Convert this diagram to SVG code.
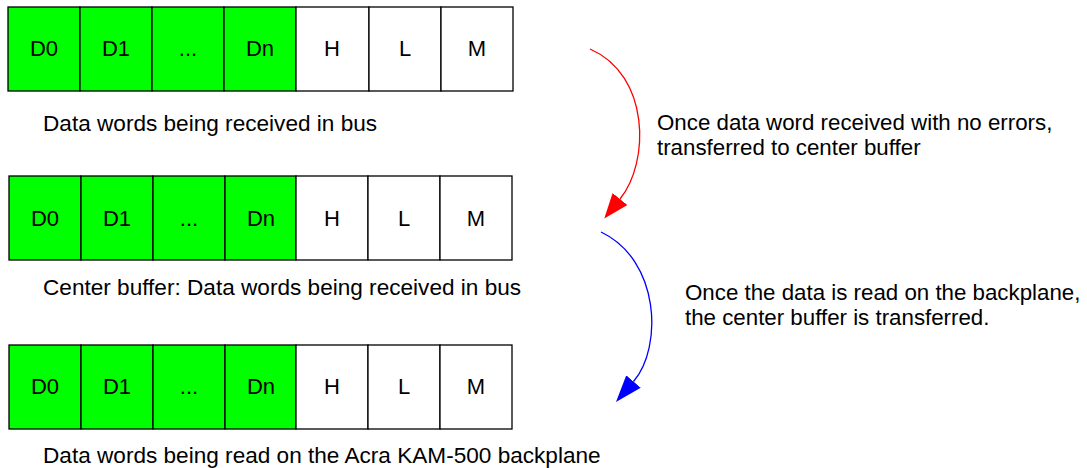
<svg xmlns="http://www.w3.org/2000/svg" width="1087" height="468" viewBox="0 0 1087 468">
<defs>
<style>
.cell{stroke:#000;stroke-width:1.3}
.g{fill:#00ff00}
.w{fill:#fff}
.lbl{font-family:"Liberation Sans",Arial,sans-serif;font-size:22px;fill:#000;text-anchor:middle}
.cap{font-family:"Liberation Sans",Arial,sans-serif;font-size:22.6px;fill:#000}
.note{font-family:"Liberation Sans",Arial,sans-serif;font-size:22.3px;fill:#000}
.arr{fill:none;stroke-width:1.3}
</style>
<marker id="ahR" viewBox="0 0 25 19" refX="0" refY="9.5" markerWidth="25" markerHeight="19" markerUnits="userSpaceOnUse" orient="auto"><path d="M0,0 L25,9.5 L0,19 z" fill="#ff0000"/></marker>
<marker id="ahB" viewBox="0 0 27 19" refX="0" refY="9.5" markerWidth="27" markerHeight="19" markerUnits="userSpaceOnUse" orient="auto"><path d="M0,0 L27,9.5 L0,19 z" fill="#0000ff"/></marker>
</defs>
<rect width="1087" height="468" fill="#fff"/>
<g id="row1">
<rect class="cell g" x="8" y="7" width="72" height="84"/>
<rect class="cell g" x="80" y="7" width="72" height="84"/>
<rect class="cell g" x="152" y="7" width="72" height="84"/>
<rect class="cell g" x="224" y="7" width="72" height="84"/>
<rect class="cell w" x="296" y="7" width="73" height="84"/>
<rect class="cell w" x="369" y="7" width="72" height="84"/>
<rect class="cell w" x="441" y="7" width="72" height="84"/>
<text class="lbl" x="44" y="56">D0</text>
<text class="lbl" x="116" y="56">D1</text>
<text class="lbl" x="188" y="56">...</text>
<text class="lbl" x="260" y="56">Dn</text>
<text class="lbl" x="332" y="56">H</text>
<text class="lbl" x="405" y="56">L</text>
<text class="lbl" x="477" y="56">M</text>
<text class="cap" x="43" y="131">Data words being received in bus</text>
</g>
<g id="row2">
<rect class="cell g" x="9" y="176" width="72" height="84"/>
<rect class="cell g" x="81" y="176" width="72" height="84"/>
<rect class="cell g" x="153" y="176" width="72" height="84"/>
<rect class="cell g" x="225" y="176" width="71" height="84"/>
<rect class="cell w" x="296" y="176" width="72" height="84"/>
<rect class="cell w" x="368" y="176" width="72" height="84"/>
<rect class="cell w" x="440" y="176" width="72" height="84"/>
<text class="lbl" x="45" y="226">D0</text>
<text class="lbl" x="117" y="226">D1</text>
<text class="lbl" x="189" y="226">...</text>
<text class="lbl" x="261" y="226">Dn</text>
<text class="lbl" x="332" y="226">H</text>
<text class="lbl" x="404" y="226">L</text>
<text class="lbl" x="476" y="226">M</text>
<text class="cap" x="43" y="295">Center buffer: Data words being received in bus</text>
</g>
<g id="row3">
<rect class="cell g" x="9" y="345" width="72" height="84"/>
<rect class="cell g" x="81" y="345" width="72" height="84"/>
<rect class="cell g" x="153" y="345" width="72" height="84"/>
<rect class="cell g" x="225" y="345" width="71" height="84"/>
<rect class="cell w" x="296" y="345" width="72" height="84"/>
<rect class="cell w" x="368" y="345" width="72" height="84"/>
<rect class="cell w" x="440" y="345" width="72" height="84"/>
<text class="lbl" x="45" y="394">D0</text>
<text class="lbl" x="117" y="394">D1</text>
<text class="lbl" x="189" y="394">...</text>
<text class="lbl" x="261" y="394">Dn</text>
<text class="lbl" x="332" y="394">H</text>
<text class="lbl" x="404" y="394">L</text>
<text class="lbl" x="476" y="394">M</text>
<text class="cap" x="43" y="463">Data words being read on the Acra KAM-500 backplane</text>
</g>
<g id="connectors">
<path class="arr" stroke="#ff0000" d="M590,49 C650,75 650,162 620,199" marker-end="url(#ahR)"/>
<path class="arr" stroke="#0000ff" d="M601,232 C660,260 663,347 633.5,381.5" marker-end="url(#ahB)"/>
</g>
<g id="notes">
<text class="note" x="657" y="130">Once data word received with no errors,</text>
<text class="note" x="657" y="155">transferred to center buffer</text>
<text class="note" x="685" y="300">Once the data is read on the backplane,</text>
<text class="note" x="685" y="325">the center buffer is transferred.</text>
</g>
</svg>
